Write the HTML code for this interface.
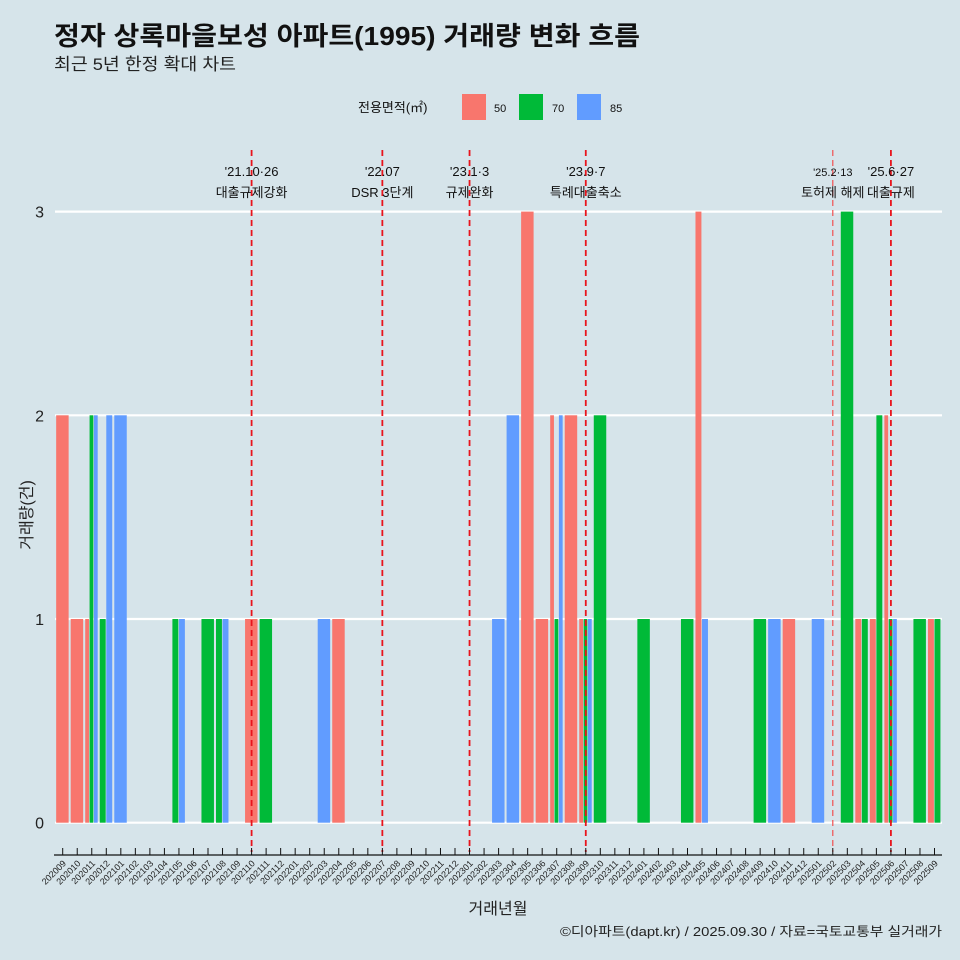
<!DOCTYPE html>
<html><head><meta charset="utf-8">
<style>
body{margin:0;background:#d6e4ea;}
svg{display:block;font-family:"Liberation Sans","Noto Sans CJK KR",sans-serif;}
</style></head>
<body>
<svg id="chart" width="960" height="960" viewBox="0 0 960 960">
<rect x="0" y="0" width="960" height="960" fill="#d6e4ea"/>
<text x="54" y="45" font-size="26" font-weight="bold" fill="#111" textLength="586" lengthAdjust="spacingAndGlyphs">정자 상록마을보성 아파트(1995) 거래량 변화 흐름</text>
<text x="54" y="70" font-size="17" fill="#222" textLength="182" lengthAdjust="spacingAndGlyphs">최근 5년 한정 확대 차트</text>
<g>
<text x="358" y="112" font-size="13" fill="#111">전용면적(㎡)</text>
<rect x="462" y="94" width="24" height="26" fill="#f8766d"/>
<text x="494" y="112" font-size="11" fill="#111">50</text>
<rect x="519" y="94" width="24" height="26" fill="#00ba38"/>
<text x="552" y="112" font-size="11" fill="#111">70</text>
<rect x="577" y="94" width="24" height="26" fill="#619cff"/>
<text x="610" y="112" font-size="11" fill="#111">85</text>
</g>
<text transform="translate(32,515) rotate(-90)" text-anchor="middle" font-size="16" fill="#222">거래량(건)</text>
<text x="498" y="914" text-anchor="middle" font-size="16" fill="#222">거래년월</text>
<text x="560" y="936" font-size="13" fill="#222" textLength="382" lengthAdjust="spacingAndGlyphs">©디아파트(dapt.kr) / 2025.09.30 / 자료=국토교통부 실거래가</text>
<g id="grid"></g><g id="bars"></g><g id="events"></g><g id="axis"></g>
</svg>
<script>
const months = [];
for (let y = 2020, m = 9; !(y === 2025 && m === 10); ) { months.push(String(y) + String(m).padStart(2, '0')); m++; if (m > 12) { m = 1; y++; } }
const series = ['50', '70', '85'];
const colors = ['#f8766d', '#00ba38', '#619cff'];
const vals50 = {'202009':2,'202010':1,'202011':1,'202110':1,'202204':1,'202305':3,'202306':1,'202307':2,'202308':2,'202309':1,'202405':3,'202411':1,'202504':1,'202505':1,'202506':2,'202509':1};
const vals70 = {'202011':2,'202012':1,'202105':1,'202107':1,'202108':1,'202111':1,'202307':1,'202309':1,'202310':2,'202401':1,'202404':1,'202409':1,'202503':3,'202504':1,'202505':2,'202506':1,'202508':1,'202509':1};
const vals85 = {'202011':2,'202012':2,'202101':2,'202105':1,'202108':1,'202203':1,'202303':1,'202304':2,'202307':2,'202309':1,'202405':1,'202410':1,'202501':1,'202506':1};
const yTicks = [0, 1, 2, 3];
const eventMonths = ['202110', '202207', '202301', '202309', '202502', '202506'];
const eventDates = ["'21.10·26", "'22.07", "'23.1·3", "'23.9·7", "'25.2·13", "'25.6·27"];
const eventNames = ['대출규제강화', 'DSR 3단계', '규제완화', '특례대출축소', '토허제 해제', '대출규제'];

const NS = 'http://www.w3.org/2000/svg';
const X0 = 62.7, STEP = 14.53, Y0 = 822.7, YU = 203.7;
const xs = i => X0 + i * STEP;
const ys = v => Y0 - v * YU;
function mk(tag, attrs, parent) { const e = document.createElementNS(NS, tag); for (const k in attrs) e.setAttribute(k, attrs[k]); parent.appendChild(e); return e; }
const grid = document.getElementById('grid'), bars = document.getElementById('bars'), ev = document.getElementById('events'), ax = document.getElementById('axis');

yTicks.forEach(t => {
  const l = mk('line', {x1: 55, x2: 942, y1: ys(t), y2: ys(t), stroke: '#fff', 'stroke-width': 2.2}, grid);
  
  
  const tx = mk('text', {x: 44, y: ys(t) + 6, 'text-anchor': 'end', 'font-size': 16, fill: '#222'}, grid);
  tx.textContent = t;
  
  
});

const allVals = [vals50, vals70, vals85];
months.forEach((mo, i) => {
  const present = [];
  series.forEach((s, k) => { if (allVals[k][mo]) present.push(k); });
  if (!present.length) return;
  const total = STEP * 0.9, w = total / present.length;
  present.forEach((k, j) => {
    const v = allVals[k][mo];
    const x = xs(i) - total / 2 + j * w;
    const r = mk('rect', {x: x, y: ys(v), width: Math.max(w - 0.6, 0.5), height: ys(0) - ys(v), fill: colors[k]}, bars);
    
    
  });
});

eventMonths.forEach((mo, i) => {
  const x = xs(months.indexOf(mo));
  const thin = mo === '202502';
  const l = mk('line', {x1: x, x2: x, y1: 150, y2: 852, stroke: thin ? '#f05050' : '#e8141c', 'stroke-width': thin ? 1.2 : 1.8, 'stroke-dasharray': '6,4'}, ev);
  
  
  const t1 = mk('text', {x: x, y: 176, 'text-anchor': 'middle', 'font-size': thin ? 11 : 13, fill: '#111'}, ev);
  t1.textContent = eventDates[i];
  
  
  const t2 = mk('text', {x: x, y: 197, 'text-anchor': 'middle', 'font-size': 13, fill: '#111'}, ev);
  t2.textContent = eventNames[i];
  
  
});

const axl = mk('line', {x1: 54, x2: 942, y1: 855, y2: 855, stroke: '#111', 'stroke-width': 1.3}, ax);


months.forEach((mo, i) => {
  const x = xs(i);
  const t = mk('line', {x1: x, x2: x, y1: 848, y2: 855, stroke: '#111', 'stroke-width': 1}, ax);
  
  
  const lb = mk('text', {transform: 'translate(' + (x + 4) + ',864) rotate(-45)', 'text-anchor': 'end', 'font-size': 9, fill: '#222'}, ax);
  lb.textContent = mo;
  
  
});
</script>
</body></html>
